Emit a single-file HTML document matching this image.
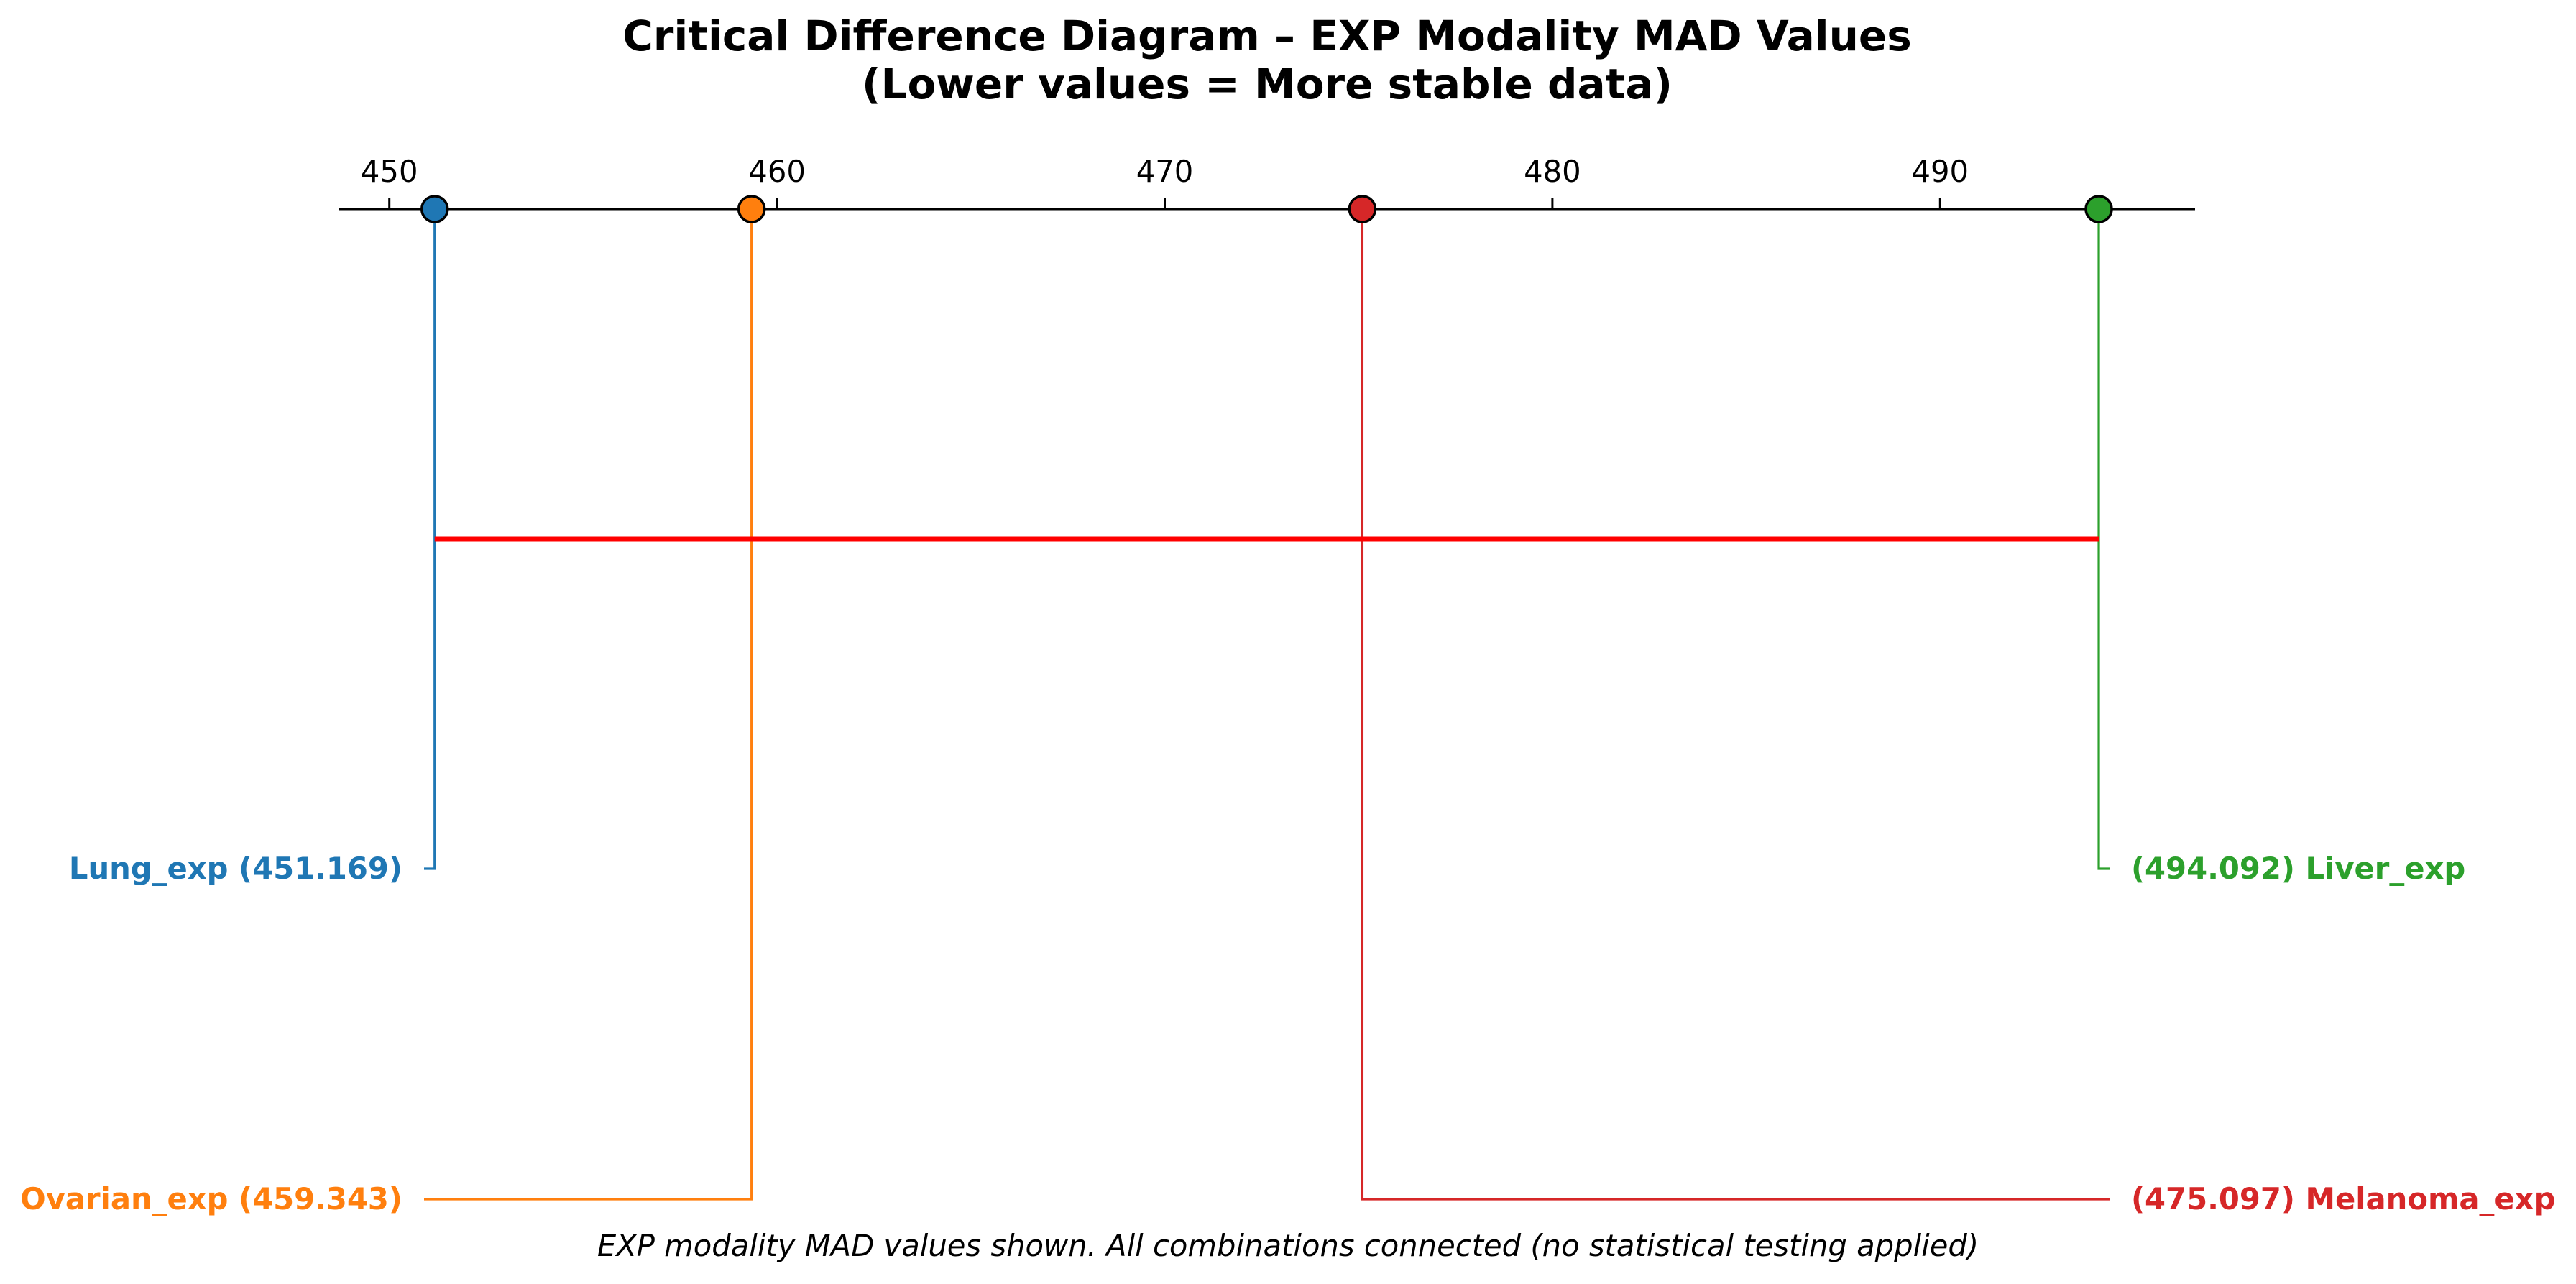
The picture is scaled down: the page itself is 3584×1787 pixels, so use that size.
<!DOCTYPE html>
<html><head><meta charset="utf-8"><style>
html,body{margin:0;padding:0;background:#fff;}
svg{display:block;font-family:"DejaVu Sans","Liberation Sans",sans-serif;}
</style></head><body>
<svg id="chart" width="3584" height="1787" viewBox="0 0 3584 1787" xmlns="http://www.w3.org/2000/svg">
<rect width="3584" height="1787" fill="#fff"/>
<text x="1763" y="70" text-anchor="middle" font-size="58" font-weight="bold">Critical Difference Diagram – EXP Modality MAD Values</text>
<text x="1763" y="137" text-anchor="middle" font-size="58" font-weight="bold">(Lower values = More stable data)</text>
<line x1="471" y1="291" x2="3054" y2="291" stroke="#000" stroke-width="3"/>
<g id="ticks"></g>
<g id="marks"></g>
<text x="1792" y="1748" text-anchor="middle" font-size="41.7" font-style="italic">EXP modality MAD values shown. All combinations connected (no statistical testing applied)</text>
</svg>
<script>
const categories = ["Lung_exp", "Ovarian_exp", "Melanoma_exp", "Liver_exp"];
const values = [451.169, 459.343, 475.097, 494.092];
const colors = ["#1f77b4", "#ff7f0e", "#d62728", "#2ca02c"];
const tickValues = [450, 460, 470, 480, 490];
const tickLabels = ["450", "460", "470", "480", "490"];

const NS = "http://www.w3.org/2000/svg";
const axisY = 291;
function xScale(v){ return 541.7 + (v - 450) * 53.94; }
function mk(tag, attrs, parent){
  const e = document.createElementNS(NS, tag);
  for (const k in attrs) e.setAttribute(k, attrs[k]);
  parent.appendChild(e);
  return e;
}
const ticksG = document.getElementById('ticks');
tickValues.forEach((t, i) => {
  const x = xScale(t);
  const l = mk('line', {x1:x, y1:axisY-15, x2:x, y2:axisY, stroke:'#000', 'stroke-width':3}, ticksG);
  
  
  const tx = mk('text', {x:x, y:253, 'text-anchor':'middle', 'font-size':41.7}, ticksG);
  tx.textContent = tickLabels[i];
  
  
});
const marksG = document.getElementById('marks');
const n = values.length;
const order = values.map((v,i)=>i).sort((a,b)=>values[a]-values[b]);
const levels = [1209, 1669];
order.forEach((idx, rank) => {
  const x = xScale(values[idx]);
  const left = rank < n/2;
  const y = left ? levels[rank] : levels[n-1-rank];
  const hx = left ? 590 : 2935;
  const p = mk('polyline', {points: x+','+axisY+' '+x+','+y+' '+hx+','+y, fill:'none', stroke:colors[idx], 'stroke-width':3.2}, marksG);
  
  
  const t = mk('text', {x: left ? 560 : 2965, y: y+14, 'text-anchor': left ? 'end' : 'start', 'font-size':41.7, 'font-weight':'bold', fill:colors[idx]}, marksG);
  t.textContent = left ? categories[idx] + ' (' + values[idx].toFixed(3) + ')' : '(' + values[idx].toFixed(3) + ') ' + categories[idx];
  
  
});
const minV = Math.min(...values), maxV = Math.max(...values);
const bar = mk('line', {x1:xScale(minV), y1:750, x2:xScale(maxV), y2:750, stroke:'#ff0000', 'stroke-width':7}, marksG);


values.forEach((v, i) => {
  const c = mk('circle', {cx:xScale(v), cy:axisY, r:18, fill:colors[i], stroke:'#000', 'stroke-width':3.5}, marksG);
  
  
});
</script>
</body></html>
